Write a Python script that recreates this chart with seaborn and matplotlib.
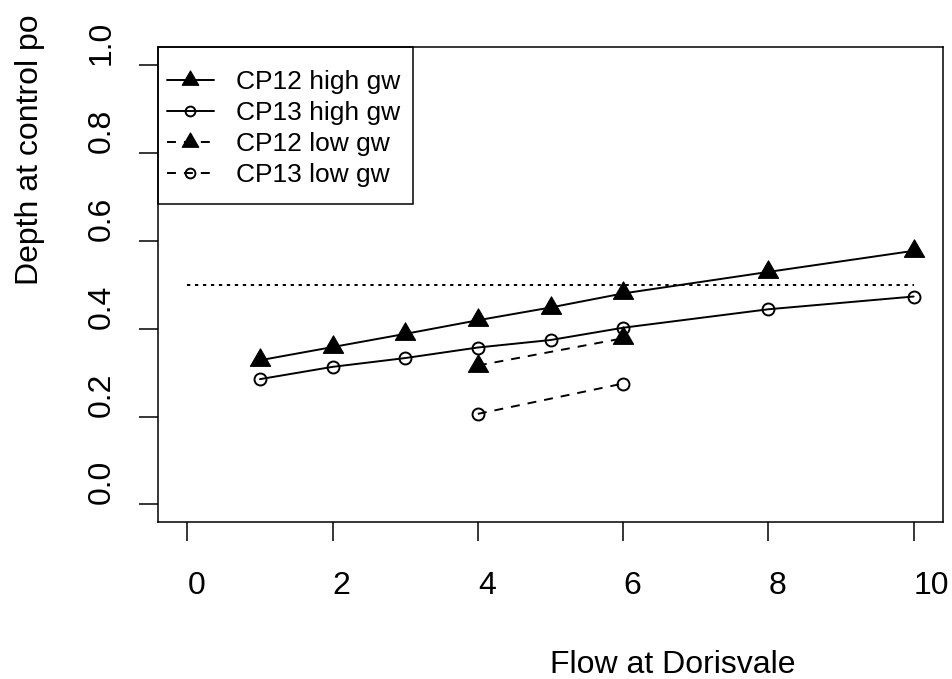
import matplotlib
matplotlib.use("Agg")
import matplotlib.pyplot as plt
import seaborn as sns
import pandas as pd
from matplotlib.path import Path
from matplotlib.patches import Rectangle

# ---- data ----
flow_high = [1, 2, 3, 4, 5, 6, 8, 10]
cp12_high = [0.328, 0.358, 0.388, 0.419, 0.448, 0.480, 0.529, 0.577]
cp13_high = [0.285, 0.313, 0.333, 0.357, 0.374, 0.402, 0.444, 0.473]
flow_low = [4, 6]
cp12_low = [0.316, 0.378]
cp13_low = [0.206, 0.275]
threshold_x = [0, 10]
threshold_y = [0.5, 0.5]
x_ticks = [0, 2, 4, 6, 8, 10]
x_tick_labels = ["0", "2", "4", "6", "8", "10"]
y_ticks = [0.0, 0.2, 0.4, 0.6, 0.8, 1.0]
y_tick_labels = ["0.0", "0.2", "0.4", "0.6", "0.8", "1.0"]
series_labels = ["CP12 high gw", "CP13 high gw", "CP12 low gw", "CP13 low gw"]
x_title = "Flow at Dorisvale"
y_title = "Depth at control po"

sns.set_theme(style="ticks")
plt.rcParams["font.family"] = ["Liberation Sans", "DejaVu Sans"]

W, H = 952, 679
fig = plt.figure(figsize=(W / 100, H / 100), dpi=100)
fig.patch.set_facecolor("white")
ax_l, ax_r, ax_t, ax_b = 158.3, 942.7, 47.3, 522.0
ax = fig.add_axes([ax_l / W, (H - ax_b) / H, (ax_r - ax_l) / W, (ax_b - ax_t) / H])
ax.set_facecolor("white")

# triangle marker centred on its centroid (like R pch 17)
tri = Path([(0, 1), (-0.8660254, -0.5), (0.8660254, -0.5), (0, 1)],
           [Path.MOVETO, Path.LINETO, Path.LINETO, Path.CLOSEPOLY])

LW = 1.4
dash = (4.6, 4.1)
tri_kw = dict(marker=tri, markersize=16.8, markerfacecolor="black",
              markeredgecolor="black", markeredgewidth=0.8)
circ_kw = dict(marker="o", markersize=8.6, markerfacecolor="none",
               markeredgecolor="black", markeredgewidth=1.4)

df_hi = pd.DataFrame({"flow": flow_high, "cp12": cp12_high, "cp13": cp13_high})
df_lo = pd.DataFrame({"flow": flow_low, "cp12": cp12_low, "cp13": cp13_low})
df_th = pd.DataFrame({"x": threshold_x, "y": threshold_y})

sns.lineplot(data=df_hi, x="flow", y="cp12", ax=ax, color="black", lw=LW,
             errorbar=None, label=series_labels[0], **tri_kw)
sns.lineplot(data=df_hi, x="flow", y="cp13", ax=ax, color="black", lw=LW,
             errorbar=None, label=series_labels[1], **circ_kw)
sns.lineplot(data=df_lo, x="flow", y="cp12", ax=ax, color="black", lw=LW,
             errorbar=None, label=series_labels[2], dashes=False, **tri_kw)
sns.lineplot(data=df_lo, x="flow", y="cp13", ax=ax, color="black", lw=LW,
             errorbar=None, label=series_labels[3], dashes=False, **circ_kw)
sns.lineplot(data=df_th, x="x", y="y", ax=ax, color="black", lw=LW,
             errorbar=None, legend=False)

lines = ax.get_lines()
lines[2].set_dashes(dash)
lines[3].set_dashes(dash)
lines[4].set_dashes((1.7, 2.4))

ax.set_xlim(-0.4, 10.4)
ax.set_ylim(-0.04, 1.04)

for s in ax.spines.values():
    s.set_visible(True)
    s.set_color("black")
    s.set_linewidth(1.1)

FS = 23
ax.set_xticks(x_ticks, labels=x_tick_labels, ha="left")
ax.set_yticks(y_ticks, labels=y_tick_labels, rotation=90,
              rotation_mode="anchor", ha="left", va="center")
ax.tick_params(axis="both", direction="out", length=13.7, width=1.1,
               color="black", labelsize=FS, labelcolor="black")
ax.tick_params(axis="x", pad=21.5)
ax.tick_params(axis="y", pad=27)

ax.set_xlabel(x_title, fontsize=FS, color="black", ha="left", va="baseline")
ax.xaxis.set_label_coords(0.5, (ax_b - 673) / (ax_b - ax_t))
ax.set_ylabel(y_title, fontsize=FS, color="black", rotation=90,
              rotation_mode="anchor", ha="left", va="baseline")
ax.yaxis.set_label_coords((38 - ax_l) / (ax_r - ax_l), 0.5)

# legend
LFS = 19
handles, labels = ax.get_legend_handles_labels()
leg = ax.legend(handles, labels, loc="upper left",
                bbox_to_anchor=((167 - ax_l) / (ax_r - ax_l), (ax_b - 70) / (ax_b - ax_t)),
                frameon=False, fontsize=LFS, borderpad=0, borderaxespad=0,
                handlelength=1.78, handletextpad=0.82, labelspacing=0.27,
                markerscale=0.82, numpoints=1)
for t in leg.get_texts():
    t.set_color("black")
ax.add_patch(Rectangle((0, (ax_b - 204) / (ax_b - ax_t)),
                       (413 - ax_l) / (ax_r - ax_l),
                       1 - (ax_b - 204) / (ax_b - ax_t),
                       transform=ax.transAxes, fill=False, ec="black",
                       lw=1.1, clip_on=False, zorder=5))

fig.savefig("out.png", dpi=100, facecolor="white")
